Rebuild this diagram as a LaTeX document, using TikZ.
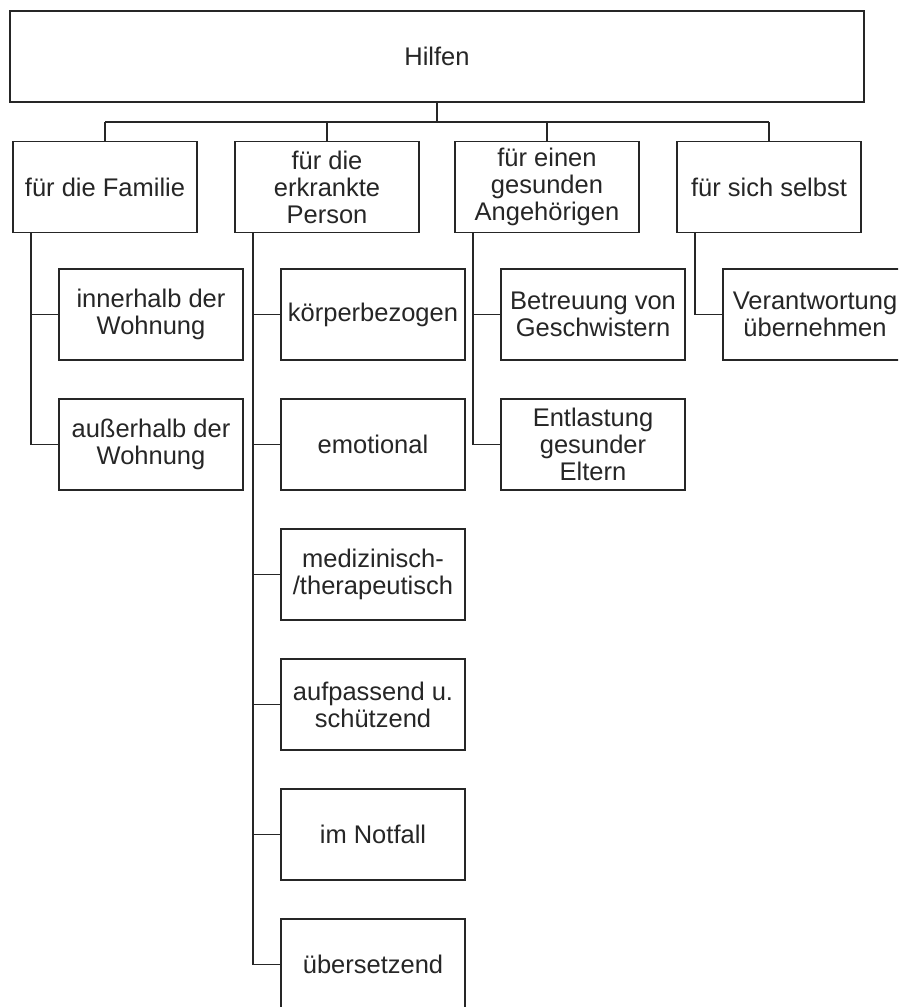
\documentclass[tikz,border=0pt]{standalone}
\usepackage{fontspec}
\setmainfont{Liberation Sans}
\begin{document}
\begin{tikzpicture}[x=1pt,y=-1pt,
  box/.style={draw=black!85, line width=1.8pt, fill=white, inner sep=0pt,
    align=center, text=black!85, font=\fontsize{25.5}{27}\selectfont,
    minimum width=184pt, minimum height=91pt},
  link/.style={draw=black!85, line width=1.8pt}]
\clip (0,0) rectangle (898,1007);
\fill[white] (0,0) rectangle (898,1007);
% top
\node[box, minimum width=854pt] (top) at (437,56.5) {Hilfen};
% level 1
\node[box] (fam) at (105,187) {für die Familie};
\node[box] (erk) at (327,187) {für die\\erkrankte\\Person};
\node[box] (ges) at (547,187) {für einen\\gesunden\\Angehörigen};
\node[box] (self) at (769,187) {für sich selbst};
\coordinate (bar) at (437,122);
\draw[link] (top.south) -- (top.south |- bar);
\draw[link] (fam.north |- bar) -- (self.north |- bar);
\foreach \n in {fam,erk,ges,self} \draw[link] (\n.north) -- (\n.north |- bar);
% children
\node[box] (inn) at (151,314.5) {innerhalb der\\Wohnung};
\node[box] (aus) at (151,444.5) {außerhalb der\\Wohnung};
\node[box] (koe) at (373,314.5) {körperbezogen};
\node[box] (emo) at (373,444.5) {emotional};
\node[box] (med) at (373,574.5) {medizinisch-\\/therapeutisch};
\node[box] (auf) at (373,704.5) {aufpassend u.\\schützend};
\node[box] (not) at (373,834.5) {im Notfall};
\node[box] (ueb) at (373,964.5) {übersetzend};
\node[box] (bet) at (593,314.5) {Betreuung von\\Geschwistern};
\node[box] (ent) at (593,444.5) {Entlastung\\gesunder\\Eltern};
\node[box] (ver) at (815,314.5) {Verantwortung\\übernehmen};
% connectors
\foreach \c in {inn,aus} \draw[link] (fam.south west) ++(19,0) |- (\c.west);
\foreach \c in {koe,emo,med,auf,not,ueb} \draw[link] (erk.south west) ++(19,0) |- (\c.west);
\foreach \c in {bet,ent} \draw[link] (ges.south west) ++(19,0) |- (\c.west);
\draw[link] (self.south west) ++(19,0) |- (ver.west);
\end{tikzpicture}
\end{document}
